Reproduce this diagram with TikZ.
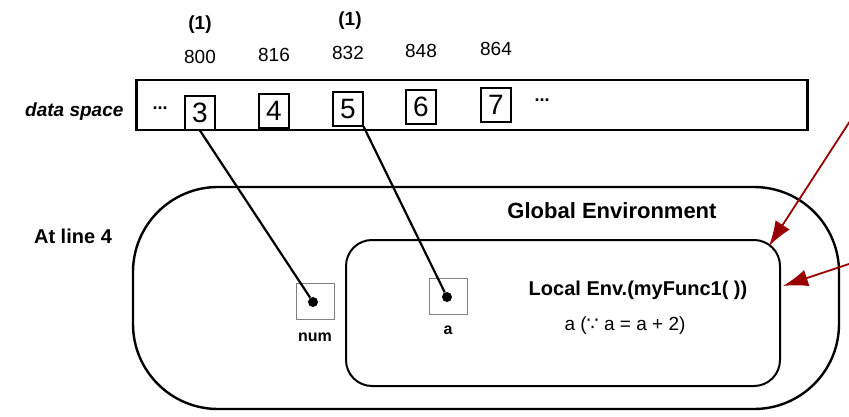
\documentclass[tikz,border=0pt]{standalone}
\usepackage{fontspec}
\setmainfont{Liberation Sans}
\newfontfamily\symfont{DejaVu Sans}
\usetikzlibrary{arrows.meta}
\begin{document}
\begin{tikzpicture}[x=1pt,y=-1pt,
  cell/.style={draw, line width=1.2pt, minimum width=30pt, minimum height=34pt, inner sep=0pt, font=\fontsize{28}{30}\selectfont},
  addr/.style={font=\fontsize{19}{21}\selectfont},
  slot/.style={draw=gray, line width=0.8pt, minimum width=38pt, minimum height=36pt, inner sep=0pt},
  ref/.style={circle, fill, inner sep=0pt, minimum size=10pt},
  link/.style={line width=2.2pt},
  envline/.style={draw, line width=2.4pt},
  redarrow/.style={draw=red!60!black, line width=1.8pt, arrows={-Latex[length=25pt,width=17pt]}}]
\useasboundingbox (0,0) rectangle (849,417);
% data space
\node[envline, minimum width=671pt, minimum height=50pt] (space) at (472,105) {};
\node[anchor=east, font=\fontsize{19}{21}\selectfont\bfseries\itshape] (spacelbl) at (127,112) {data space};
\node[font=\fontsize{18}{20}\selectfont\bfseries] (ldots) at (160,108) {...};
\node[cell] (c3) at (200,113) {3};
\node[cell] (c4) at (274,111) {4};
\node[cell] (c5) at (348,109) {5};
\node[cell] (c6) at (421,107) {6};
\node[cell] (c7) at (496,105) {7};
\node[font=\fontsize{18}{20}\selectfont\bfseries] (rdots) at (542,100) {...};
\node[addr] (a800) at (200,57) {800};
\node[addr] (a816) at (274,55) {816};
\node[addr] (a832) at (348,53) {832};
\node[addr] (a848) at (421,51) {848};
\node[addr] (a864) at (496,49) {864};
\node[addr, font=\fontsize{19}{21}\selectfont\bfseries] (m1) at (200,25) {(1)};
\node[addr, font=\fontsize{19}{21}\selectfont\bfseries] (m2) at (350,21) {(1)};
% environments
\node[font=\fontsize{20}{22}\selectfont\bfseries] (line4) at (73,236) {At line 4};
\node[envline, minimum width=706pt, minimum height=222pt, rounded corners=85pt] (global) at (486,298) {};
\node[font=\fontsize{22}{24}\selectfont\bfseries] (globallbl) at (612,211) {Global Environment};
\node[envline, line width=2pt, minimum width=434pt, minimum height=146pt, rounded corners=26pt] (local) at (563,313) {};
\node[font=\fontsize{20}{22}\selectfont\bfseries] (locallbl) at (638,290) {Local Env.(myFunc1( ))};
\node[font=\fontsize{19}{21}\selectfont] (localtxt) at (625,326) {a ({\symfont ∵} a = a + 2)};
% variables
\node[slot] (numbox) at (315,301) {};
\node[ref] (num) at (313,302) {};
\node[font=\fontsize{16}{18}\selectfont\bfseries] (numlbl) at (315,337) {num};
\node[slot] (abox) at (448,296) {};
\node[ref] (a) at (447,297) {};
\node[font=\fontsize{16}{18}\selectfont\bfseries] (albl) at (448,330) {a};
\draw[link] (c3.south) -- (num);
\draw[link] (c5.south east) -- (a);
% pointers from outside
\coordinate (p1) at (852,118);
\coordinate (p2) at (852,263);
\coordinate (corner) at (769,246);
\draw[redarrow] (p1) -- (corner);
\draw[redarrow] (p2) -- (783,286);
\end{tikzpicture}
\end{document}
